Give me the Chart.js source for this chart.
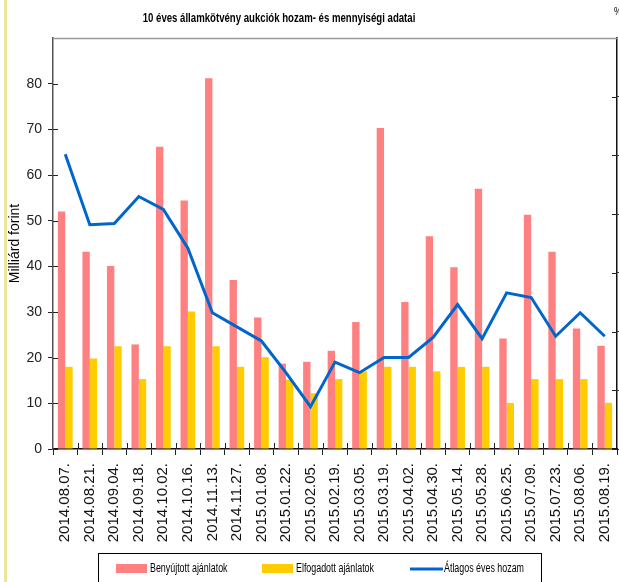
<!DOCTYPE html>
<html>
<head>
<meta charset="utf-8">
<title>10 éves államkötvény aukciók</title>
<script src="https://cdn.jsdelivr.net/npm/chart.js@4.4.1/dist/chart.umd.min.js"></script>
<style>
  html, body { margin: 0; padding: 0; background: #fff; overflow: hidden; }
  #wrap { position: relative; width: 619px; height: 585px; }
  #edge { position: absolute; left: 4px; top: 0; width: 3px; height: 100%; background: #efe59c; }
</style>
</head>
<body>
<div id="wrap">
  <canvas id="auctionChart" width="619" height="585"></canvas>
  <div id="edge"></div>
</div>
<script>
/*
  10 éves államkötvény aukciók
  - bars: submitted / accepted bids (Mrd Ft, left axis)
  - line: average yield (%, right axis)
*/

const auctionDates = [
  '2014.08.07.', '2014.08.21.', '2014.09.04.', '2014.09.18.', '2014.10.02.',
  '2014.10.16.', '2014.11.13.', '2014.11.27.', '2015.01.08.', '2015.01.22.',
  '2015.02.05.', '2015.02.19.', '2015.03.05.', '2015.03.19.', '2015.04.02.',
  '2015.04.30.', '2015.05.14.', '2015.05.28.', '2015.06.25.', '2015.07.09.',
  '2015.07.23.', '2015.08.06.', '2015.08.19.'
];
const submittedBids = [52.0, 43.2, 40.1, 22.9, 66.2, 54.4, 81.2, 37.0, 28.8, 18.7, 19.1, 21.5,
  27.8, 70.3, 32.2, 46.6, 39.8, 57.0, 24.2, 51.3, 43.2, 26.4, 22.6];
const acceptedBids = [18.0, 19.8, 22.5, 15.3, 22.5, 30.1, 22.5, 18.0, 20.1, 15.2, 12.2, 15.3,
  17.0, 18.0, 18.0, 17.0, 18.0, 18.0, 10.1, 15.3, 15.3, 15.3, 10.1];
const avgYield = [5.01, 4.41, 4.42, 4.65, 4.54, 4.21, 3.66, 3.54, 3.42, 3.15, 2.86, 3.24,
  3.15, 3.28, 3.28, 3.45, 3.73, 3.44, 3.83, 3.79, 3.46, 3.66, 3.46];

const seriesNames = ['Benyújtott ajánlatok', 'Elfogadott ajánlatok', 'Átlagos éves hozam'];
const chartTitle = '10 éves államkötvény aukciók hozam- és mennyiségi adatai';
const leftTicks = [0, 10, 20, 30, 40, 50, 60, 70, 80];

const REGULAR = "'Liberation Sans', Arial, sans-serif";

// no narrow face installed: squeeze text horizontally instead
function narrowText(ctx, text, x, y, squeeze) {
  ctx.save();
  ctx.translate(x, y);
  ctx.scale(squeeze, 1);
  ctx.fillText(text, 0, 0);
  ctx.restore();
}

/* -----------------------------
   Title, frame, ticks, legend
------------------------------ */
const framePlugin = {
  id: 'frame',
  afterDraw(chart) {
    const { ctx, chartArea: a, scales } = chart;
    ctx.save();

    // title
    ctx.fillStyle = '#000';
    ctx.font = 'bold 13px ' + REGULAR;
    ctx.textAlign = 'center';
    ctx.textBaseline = 'middle';
    narrowText(ctx, chartTitle, 279, 18, 0.74);

    // right axis unit (cut off by the edge)
    ctx.font = '11px ' + REGULAR;
    ctx.textAlign = 'left';
    narrowText(ctx, '%', 614, 12, 0.8);

    // top frame line
    ctx.strokeStyle = '#999';
    ctx.lineWidth = 1.5;
    ctx.beginPath();
    ctx.moveTo(a.left, a.top + 0.5);
    ctx.lineTo(a.right, a.top + 0.5);
    ctx.stroke();

    // inner halves of the tick marks
    ctx.strokeStyle = '#222';
    ctx.lineWidth = 1;
    ctx.beginPath();
    scales.y.ticks.forEach((t, i) => {
      if (t.value >= 90) return;
      const y = Math.round(scales.y.getPixelForTick(i)) + 0.5;
      ctx.moveTo(a.left, y); ctx.lineTo(a.left + 5, y);
    });
    scales.y1.ticks.forEach((t, i) => {
      if (t.value >= 6) return;
      const y = Math.round(scales.y1.getPixelForTick(i)) + 0.5;
      ctx.moveTo(a.right - 5, y); ctx.lineTo(a.right, y);
    });
    for (let i = 1; i < auctionDates.length; i++) {
      const x = Math.round(a.left + (a.right - a.left) * i / auctionDates.length) + 0.5;
      ctx.moveTo(x, a.bottom - 6); ctx.lineTo(x, a.bottom);
    }
    ctx.stroke();

    // legend box, items in the order bars, then line
    ctx.strokeStyle = '#000';
    ctx.lineWidth = 1;
    ctx.strokeRect(98.5, 553.5, 443, 60);

    const ds = chart.data.datasets;
    const items = [
      { d: ds[1], x: 116 },
      { d: ds[2], x: 262 },
      { d: ds[0], x: 410 }
    ];
    ctx.font = '12px ' + REGULAR;
    ctx.textAlign = 'left';
    ctx.textBaseline = 'middle';
    items.forEach(it => {
      if (it.d.type === 'line') {
        ctx.strokeStyle = it.d.borderColor;
        ctx.lineWidth = 3;
        ctx.beginPath();
        ctx.moveTo(it.x, 569);
        ctx.lineTo(it.x + 33, 569);
        ctx.stroke();
      } else {
        ctx.fillStyle = it.d.backgroundColor;
        ctx.fillRect(it.x, 564, 31, 9);
      }
      ctx.fillStyle = '#000';
      narrowText(ctx, it.d.label, it.x + 34, 569, 0.74);
    });

    ctx.restore();
  }
};

/* -----------------------------
   Chart
------------------------------ */
const ctx = document.getElementById('auctionChart').getContext('2d');

new Chart(ctx, {
  data: {
    labels: auctionDates,
    datasets: [
      {
        type: 'line',
        label: seriesNames[2],
        data: avgYield,
        yAxisID: 'y1',
        borderColor: '#0066cc',
        backgroundColor: '#0066cc',
        borderWidth: 3,
        pointRadius: 0,
        tension: 0,
        order: 0
      },
      {
        type: 'bar',
        label: seriesNames[0],
        data: submittedBids,
        yAxisID: 'y',
        backgroundColor: '#ff8080',
        categoryPercentage: 0.6,
        barPercentage: 1,
        order: 1
      },
      {
        type: 'bar',
        label: seriesNames[1],
        data: acceptedBids,
        yAxisID: 'y',
        backgroundColor: '#ffcc00',
        categoryPercentage: 0.6,
        barPercentage: 1,
        order: 1
      }
    ]
  },
  options: {
    responsive: false,
    animation: false,
    layout: { padding: { left: 20, top: 38, right: 0, bottom: 0 } },
    plugins: {
      title: { display: false },
      tooltip: { enabled: false },
      legend: { display: false }
    },
    scales: {
      x: {
        grid: { display: true, drawOnChartArea: false, offset: true, tickLength: 6, color: '#222' },
        border: { color: '#111', width: 1.5 },
        ticks: {
          autoSkip: false, minRotation: 90, maxRotation: 90, padding: 8,
          color: '#111', font: { family: REGULAR, size: 15 }
        },
        afterFit(scale) {
          scale.height = 136;
          scale.paddingLeft = 0;
          scale.paddingRight = 0;
        }
      },
      y: {
        position: 'left',
        min: 0, max: 90,
        afterBuildTicks(scale) {
          scale.ticks = leftTicks.concat([90]).map(v => ({ value: v }));
        },
        grid: {
          drawOnChartArea: false, tickLength: 5,
          color: c => (c.tick && c.tick.value >= 90 ? 'rgba(0,0,0,0)' : '#222')
        },
        border: { color: '#555', width: 1.5 },
        ticks: {
          padding: 6, color: '#222', font: { family: REGULAR, size: 14 },
          callback: v => (v >= 90 ? '' : v)
        },
        title: {
          display: true, text: 'Milliárd forint', color: '#000',
          font: { family: REGULAR, size: 14 }, padding: { top: -13, bottom: 0 }
        },
        afterFit(scale) { scale.width = 33; }
      },
      y1: {
        position: 'right',
        min: 2.5, max: 6,
        grid: {
          drawOnChartArea: false, tickLength: 6,
          color: c => (c.tick && c.tick.value >= 6 ? 'rgba(0,0,0,0)' : '#222')
        },
        border: { color: '#111', width: 1.5 },
        ticks: { stepSize: 0.5, display: false },
        afterFit(scale) { scale.width = 2; }
      }
    }
  },
  plugins: [framePlugin]
});
</script>
</body>
</html>
